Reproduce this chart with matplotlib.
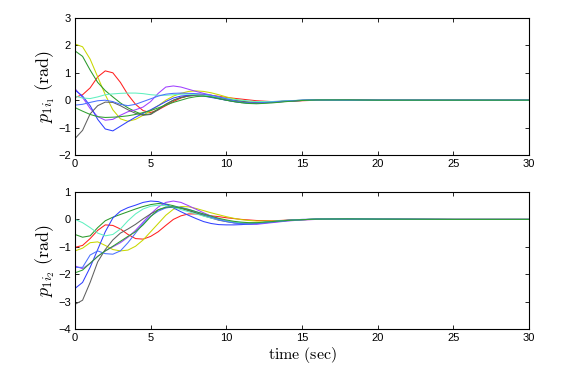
import numpy as np
import matplotlib
matplotlib.use("Agg")
import matplotlib.pyplot as plt

plt.rcParams['mathtext.fontset'] = 'cm'
plt.rcParams['font.family'] = ['Liberation Sans', 'DejaVu Sans']

# time samples (sec)
t = [0, 0.5, 1, 1.5, 2, 2.5, 3, 3.5, 4, 4.5, 5, 5.5, 6, 6.5, 7, 7.5, 8, 8.5, 9, 9.5,
     10, 10.5, 11, 11.5, 12, 13, 14, 15, 16, 18, 20, 25, 30]

colors = ['#ff2020', '#c8d800', '#2a9a2a', '#a040ff', '#3040ff',
          '#606060', '#60f0c0', '#4a70ff', '#30a030']

# upper panel p_{1 i_1}
up_red    = [0.1, 0.2, 0.45, 0.85, 1.07, 1.0, 0.65, 0.2, -0.15, -0.38, -0.45, -0.35, -0.2, -0.05, 0.08, 0.16, 0.2, 0.2, 0.18, 0.14, 0.1, 0.07, 0.04, 0.01, -0.02, -0.05, -0.04, -0.02, 0.0, 0.01, 0.0, 0.0, 0.0]
up_yellow = [2.05, 1.95, 1.5, 0.85, 0.2, -0.35, -0.68, -0.77, -0.7, -0.55, -0.38, -0.2, 0.0, 0.15, 0.25, 0.32, 0.34, 0.32, 0.27, 0.2, 0.12, 0.05, -0.02, -0.06, -0.08, -0.07, -0.03, 0.0, 0.02, 0.01, 0.0, 0.0, 0.0]
up_green  = [1.8, 1.6, 1.1, 0.65, 0.35, 0.12, -0.1, -0.28, -0.42, -0.53, -0.5, -0.32, -0.15, 0.0, 0.1, 0.16, 0.18, 0.16, 0.12, 0.06, 0.0, -0.05, -0.09, -0.11, -0.11, -0.08, -0.04, -0.01, 0.01, 0.01, 0.0, 0.0, 0.0]
up_purple = [0.42, 0.1, -0.3, -0.6, -0.73, -0.7, -0.55, -0.42, -0.35, -0.25, -0.05, 0.25, 0.48, 0.52, 0.48, 0.4, 0.32, 0.25, 0.18, 0.12, 0.06, 0.0, -0.05, -0.08, -0.1, -0.08, -0.04, -0.01, 0.01, 0.01, 0.0, 0.0, 0.0]
up_blue   = [0.37, 0.15, -0.2, -0.7, -1.05, -1.12, -0.95, -0.78, -0.62, -0.48, -0.35, -0.2, -0.05, 0.08, 0.15, 0.18, 0.18, 0.15, 0.1, 0.05, 0.0, -0.05, -0.08, -0.1, -0.1, -0.07, -0.03, 0.0, 0.01, 0.01, 0.0, 0.0, 0.0]
up_gray   = [-1.4, -1.1, -0.5, -0.2, -0.07, -0.08, -0.2, -0.35, -0.48, -0.55, -0.52, -0.35, -0.15, 0.0, 0.1, 0.15, 0.18, 0.17, 0.14, 0.1, 0.05, 0.0, -0.04, -0.07, -0.08, -0.06, -0.03, -0.01, 0.0, 0.01, 0.0, 0.0, 0.0]
up_cyan   = [0.15, 0.08, 0.06, 0.12, 0.2, 0.23, 0.25, 0.26, 0.26, 0.24, 0.2, 0.18, 0.18, 0.2, 0.22, 0.22, 0.2, 0.18, 0.15, 0.11, 0.07, 0.03, 0.0, -0.03, -0.05, -0.05, -0.02, 0.0, 0.01, 0.0, 0.0, 0.0, 0.0]
up_blue2  = [-0.18, -0.15, -0.08, -0.02, 0.0, -0.05, -0.15, -0.2, -0.15, -0.05, 0.05, 0.15, 0.22, 0.25, 0.26, 0.25, 0.24, 0.22, 0.18, 0.12, 0.05, -0.02, -0.07, -0.1, -0.1, -0.07, -0.03, 0.0, 0.01, 0.0, 0.0, 0.0, 0.0]
up_green2 = [-0.27, -0.4, -0.52, -0.6, -0.63, -0.62, -0.6, -0.57, -0.52, -0.45, -0.38, -0.28, -0.18, -0.08, 0.0, 0.08, 0.13, 0.15, 0.12, 0.06, 0.0, -0.05, -0.09, -0.12, -0.13, -0.1, -0.05, -0.01, 0.01, 0.01, 0.0, 0.0, 0.0]

# lower panel p_{1 i_2}
lo_red    = [-1.02, -0.95, -0.7, -0.4, -0.2, -0.22, -0.35, -0.55, -0.7, -0.72, -0.62, -0.45, -0.22, 0.0, 0.13, 0.2, 0.2, 0.17, 0.13, 0.1, 0.06, 0.03, 0.0, -0.02, -0.04, -0.05, -0.03, -0.01, 0.0, 0.01, 0.01, 0.0, 0.0]
lo_yellow = [-1.15, -1.05, -0.85, -0.82, -0.95, -1.1, -1.15, -1.12, -0.98, -0.75, -0.45, -0.15, 0.15, 0.37, 0.47, 0.46, 0.4, 0.32, 0.24, 0.17, 0.1, 0.04, -0.01, -0.04, -0.06, -0.06, -0.03, -0.01, 0.01, 0.01, 0.0, 0.0, 0.0]
lo_green  = [-0.55, -0.65, -0.6, -0.3, -0.05, 0.08, 0.18, 0.28, 0.38, 0.47, 0.54, 0.58, 0.56, 0.5, 0.42, 0.33, 0.24, 0.15, 0.07, 0.0, -0.06, -0.1, -0.13, -0.14, -0.13, -0.09, -0.04, -0.01, 0.01, 0.02, 0.01, 0.0, 0.0]
lo_purple = [-1.7, -1.8, -1.6, -1.35, -1.15, -1.0, -0.85, -0.65, -0.4, -0.1, 0.2, 0.45, 0.62, 0.67, 0.62, 0.5, 0.37, 0.24, 0.12, 0.02, -0.06, -0.12, -0.16, -0.18, -0.18, -0.12, -0.06, -0.02, 0.0, 0.02, 0.01, 0.0, 0.0]
lo_blue   = [-2.52, -2.3, -1.75, -1.1, -0.45, 0.05, 0.3, 0.43, 0.52, 0.62, 0.67, 0.65, 0.55, 0.42, 0.28, 0.15, 0.03, -0.08, -0.15, -0.19, -0.2, -0.2, -0.19, -0.17, -0.14, -0.08, -0.03, 0.0, 0.01, 0.01, 0.0, 0.0, 0.0]
lo_gray   = [-3.1, -2.95, -2.3, -1.55, -1.1, -0.75, -0.5, -0.35, -0.18, 0.02, 0.2, 0.35, 0.43, 0.44, 0.4, 0.32, 0.23, 0.13, 0.05, -0.03, -0.08, -0.12, -0.14, -0.14, -0.13, -0.09, -0.04, -0.01, 0.01, 0.02, 0.01, 0.0, 0.0]
lo_cyan   = [0.0, -0.12, -0.3, -0.5, -0.6, -0.55, -0.35, -0.05, 0.2, 0.38, 0.48, 0.52, 0.5, 0.44, 0.36, 0.28, 0.2, 0.12, 0.05, -0.01, -0.06, -0.1, -0.12, -0.13, -0.12, -0.08, -0.04, -0.01, 0.01, 0.02, 0.01, 0.0, 0.0]
lo_blue2  = [-1.75, -1.75, -1.3, -1.15, -1.25, -1.27, -1.15, -0.85, -0.5, -0.15, 0.12, 0.3, 0.42, 0.46, 0.44, 0.37, 0.28, 0.18, 0.08, -0.01, -0.08, -0.13, -0.16, -0.17, -0.16, -0.1, -0.05, -0.01, 0.01, 0.02, 0.01, 0.0, 0.0]
lo_green2 = [-1.95, -1.85, -1.6, -1.35, -1.15, -0.98, -0.8, -0.62, -0.45, -0.2, 0.1, 0.35, 0.45, 0.46, 0.42, 0.36, 0.28, 0.2, 0.12, 0.04, -0.02, -0.07, -0.1, -0.12, -0.12, -0.08, -0.04, -0.01, 0.01, 0.02, 0.01, 0.0, 0.0]

upper = [up_red, up_yellow, up_green, up_purple, up_blue, up_gray, up_cyan, up_blue2, up_green2]
lower = [lo_red, lo_yellow, lo_green, lo_purple, lo_blue, lo_gray, lo_cyan, lo_blue2, lo_green2]

xticks = [0, 5, 10, 15, 20, 25, 30]
yticks_up = [-2, -1, 0, 1, 2, 3]
yticks_lo = [-4, -3, -2, -1, 0, 1]

fig = plt.figure(figsize=(5.81, 3.69), dpi=100)
ax1 = fig.add_axes([75/581, 1-155/369, 454/581, 137/369])
ax2 = fig.add_axes([75/581, 1-329/369, 454/581, 137/369])

for ax, series, yt, lab in [(ax1, upper, yticks_up, r'$p_{1i_1}\ \mathrm{(rad)}$'),
                            (ax2, lower, yticks_lo, r'$p_{1i_2}\ \mathrm{(rad)}$')]:
    for s, c in zip(series, colors):
        ax.plot(t, s, color=c, lw=0.75)
    ax.set_xlim(0, 30)
    ax.set_ylim(yt[0], yt[-1])
    ax.set_xticks(xticks)
    ax.set_yticks(yt)
    ax.set_yticklabels([str(v).replace('-', '\u2212') for v in yt])
    ax.tick_params(direction='in', top=True, right=True, length=3, width=0.6,
                   labelsize=8, pad=3)
    for sp in ax.spines.values():
        sp.set_linewidth(0.8)
    ax.set_ylabel(lab, fontsize=13, labelpad=1)

ax2.set_xlabel(r'$\mathrm{time\ (sec)}$', fontsize=11.5, labelpad=1)

fig.savefig('out.png', dpi=100)
